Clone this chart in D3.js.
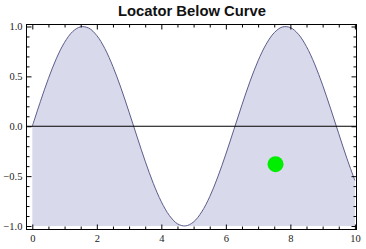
<!DOCTYPE html>
<html>
<head>
<meta charset="utf-8">
<script src="https://cdn.jsdelivr.net/npm/d3@7"></script>
<style>
body{margin:0;background:#fff;}
.tick text{font-family:"Liberation Serif","Times New Roman",serif;font-size:10.5px;fill:#222;}
</style>
</head>
<body>
<svg id="chart"></svg>
<script>
// curve samples
var xs = [0,0.25,0.5,0.75,1,1.25,1.5,1.75,2,2.25,2.5,2.75,3,3.25,3.5,3.75,4,4.25,4.5,4.75,5,
  5.25,5.5,5.75,6,6.25,6.5,6.75,7,7.25,7.5,7.75,8,8.25,8.5,8.75,9,9.25,9.5,9.75,10];
var ys = [0,0.247,0.479,0.682,0.841,0.949,0.997,0.984,0.909,0.778,0.598,0.382,0.141,-0.108,-0.351,
  -0.572,-0.757,-0.895,-0.978,-0.999,-0.959,-0.859,-0.706,-0.508,-0.279,-0.033,0.215,0.451,0.657,
  0.823,0.938,0.995,0.989,0.922,0.798,0.625,0.412,0.174,-0.075,-0.320,-0.544];
var locator = [7.54,-0.38];
var xTicks = [0,2,4,6,8,10];
var yTicks = [-1,-0.5,0,0.5,1];
var fillBase = -1;

var width = 366, height = 249;
var pLeft = 26.5, pRight = 356.5, pTop = 24.5, pBottom = 229.5;

var svg = d3.select('#chart').attr('width',width).attr('height',height);

var x = d3.scaleLinear().domain([-0.18,10.05]).range([pLeft,pRight]);
var y = d3.scaleLinear().domain([-1.035,1.02]).range([pBottom,pTop]);

var pts = xs.map(function(d,i){return [d,ys[i]];});

var area = d3.area()
  .x(function(d){return x(d[0]);})
  .y0(y(fillBase))
  .y1(function(d){return y(d[1]);})
  .curve(d3.curveCatmullRom);

var line = d3.line()
  .x(function(d){return x(d[0]);})
  .y(function(d){return y(d[1]);})
  .curve(d3.curveCatmullRom);

svg.append('path').datum(pts).attr('d',area).attr('fill','#d9d9ec');
svg.append('path').datum(pts).attr('d',line).attr('fill','none')
  .attr('stroke','#5c5c8a').attr('stroke-width',1);

// zero line
svg.append('line').attr('x1',pLeft).attr('x2',pRight)
  .attr('y1',y(0)).attr('y2',y(0)).attr('stroke','#000').attr('stroke-width',1);

// locator
svg.append('circle').attr('cx',x(locator[0])).attr('cy',y(locator[1])).attr('r',8)
  .attr('fill','#00ee00');

// minor tick values
var xMinor = d3.range(0,10.01,0.5).filter(function(v){return xTicks.indexOf(v)<0;});
var yMinor = d3.range(-1,1.001,0.1).map(function(v){return Math.round(v*10)/10;})
  .filter(function(v){return yTicks.indexOf(v)<0;});

function axisGroup(axis,tx,ty){
  var g = svg.append('g').attr('transform','translate('+tx+','+ty+')').call(axis);
  g.select('.domain').remove();
  g.selectAll('line').attr('stroke','#000');
  return g;
}

var fmt = d3.format('.1f');

axisGroup(d3.axisBottom(x).tickValues(xTicks).tickSize(-5).tickPadding(5).tickFormat(d3.format('d')),0,pBottom);
axisGroup(d3.axisBottom(x).tickValues(xMinor).tickSize(-3).tickFormat(''),0,pBottom);
axisGroup(d3.axisTop(x).tickValues(xTicks).tickSize(-5).tickFormat(''),0,pTop);
axisGroup(d3.axisTop(x).tickValues(xMinor).tickSize(-3).tickFormat(''),0,pTop);

axisGroup(d3.axisLeft(y).tickValues(yTicks).tickSize(-5).tickPadding(4).tickFormat(fmt),pLeft,0);
axisGroup(d3.axisLeft(y).tickValues(yMinor).tickSize(-3).tickFormat(''),pLeft,0);
axisGroup(d3.axisRight(y).tickValues(yTicks).tickSize(-5).tickFormat(''),pRight,0);
axisGroup(d3.axisRight(y).tickValues(yMinor).tickSize(-3).tickFormat(''),pRight,0);

// frame
svg.append('rect').attr('x',pLeft).attr('y',pTop).attr('width',pRight-pLeft).attr('height',pBottom-pTop)
  .attr('fill','none').attr('stroke','#000').attr('stroke-width',1);

svg.append('text').attr('x',192).attr('y',16).attr('text-anchor','middle')
  .style('font-family','"Liberation Sans",Arial,sans-serif').style('font-weight','bold')
  .style('font-size','14.8px').attr('fill','#111').text('Locator Below Curve');
</script>
</body>
</html>
